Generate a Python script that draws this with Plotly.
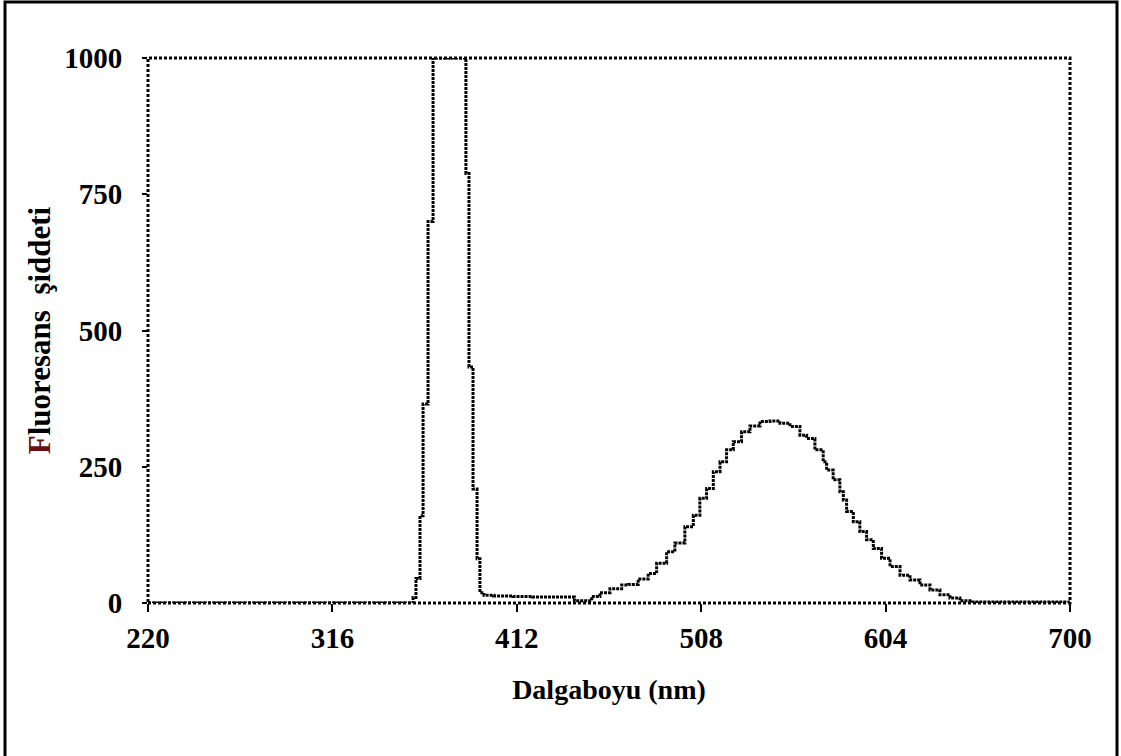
import plotly.graph_objects as go

# Wavelength (nm) and fluorescence intensity (stepped trace)
wavelength = [220, 357, 358, 359.5, 361.6, 363.2, 365.8, 368.4, 385.5, 387.1, 389.2,
              391.3, 392.8, 394.9, 400, 410, 420, 430, 442, 451, 455.3, 460.5, 466.6,
              470, 475.2, 480.4, 484.8, 490, 494.3, 499.5, 503.9, 507.3, 510.8, 514.3,
              517.8, 521.2, 524.7, 529, 533.4, 538.6, 543.8, 549, 554.2, 559.4, 562.9,
              567.2, 571.5, 573.3, 576.7, 580.2, 582, 583.7, 587.2, 590.6, 594.1, 597.6,
              601.9, 606.3, 611.5, 616.7, 621.9, 627.1, 632.3, 637.5, 642.7, 647.9, 700]
intensity = [0, 0, 10, 45, 160, 365, 700, 1000, 788, 433, 209,
             81, 19, 14, 13, 12, 11, 11, 4, 12, 19, 26, 33,
             34, 44, 54, 73, 94, 110, 140, 161, 192, 210, 241,
             259, 281, 296, 314, 325, 333, 334, 330, 324, 308, 302,
             281, 259, 244, 226, 204, 189, 168, 149, 131, 116, 100,
             82, 67, 51, 42, 33, 24, 15, 9, 4, 2, 0]

x_ticks = [220, 316, 412, 508, 604, 700]
y_ticks = [0, 250, 500, 750, 1000]

FONT = "Liberation Serif"

fig = go.Figure()
fig.add_trace(go.Scatter(
    x=wavelength, y=intensity, mode="lines",
    line=dict(color="black", width=3, dash="3px,1px", shape="hv"),
    showlegend=False,
))

W, H = 1121, 756
L, R, T, B = 148, 51, 58, 153
pw, ph = W - L - R, H - T - B

fig.update_layout(
    width=W, height=H,
    margin=dict(l=L, r=R, t=T, b=B),
    paper_bgcolor="white", plot_bgcolor="white",
    font=dict(family=FONT, color="black"),
    xaxis=dict(
        range=[220, 700], tickvals=x_ticks, ticktext=[str(v) for v in x_ticks],
        showgrid=False, zeroline=False, showline=False,
        ticks="outside", ticklen=8, tickwidth=2, tickcolor="black",
        ticklabelstandoff=1,
        tickfont=dict(family=FONT, size=29, color="black", weight="bold"),
        title=dict(text="<b>Dalgaboyu (nm)</b>", font=dict(family=FONT, size=28, color="black"),
                   standoff=26),
    ),
    yaxis=dict(
        range=[0, 1000], tickvals=y_ticks, ticktext=[str(v) for v in y_ticks],
        showgrid=False, zeroline=False, showline=False,
        ticks="outside", ticklen=5, tickwidth=2, tickcolor="black",
        ticklabelstandoff=14,
        tickfont=dict(family=FONT, size=29, color="black", weight="bold"),
        title=dict(text="<b><span style='color:#6b1010'>F</span>luoresans  şiddeti</b>",
                   font=dict(family=FONT, size=31, color="black"), standoff=4),
    ),
    shapes=[
        dict(type="rect", xref="x domain", yref="y domain", x0=0, x1=1, y0=0, y1=1,
             line=dict(color="black", width=3, dash="3px,2px"), layer="above"),
        dict(type="rect", xref="paper", yref="paper",
             x0=(5 - L) / pw, x1=(1117 - L) / pw,
             y0=(H - B - 770) / ph, y1=(H - B - 2) / ph,
             line=dict(color="black", width=3)),
    ],
)

fig.write_html("out.html")
